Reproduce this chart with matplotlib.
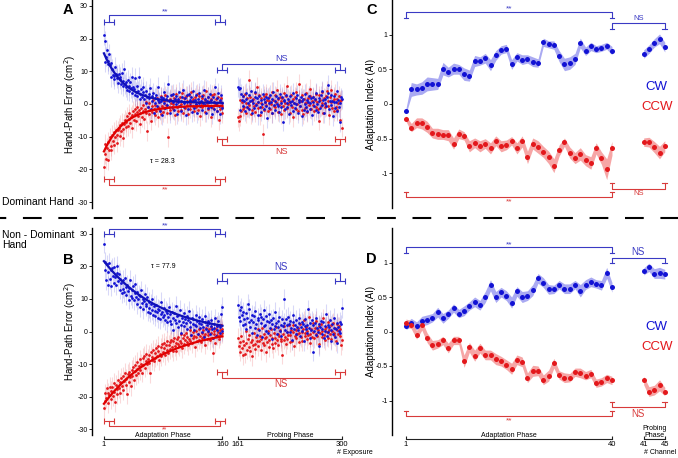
import numpy as np
import matplotlib.pyplot as plt
import matplotlib.transforms as mtransforms
from matplotlib.lines import Line2D

plt.rcParams['font.family'] = ['Liberation Sans', 'DejaVu Sans']

# ---- data: hand-path error, dominant hand (panel A) ----
adapt_trials = np.arange(1, 161)
probe_trials = np.arange(161, 301)

A_cw_adapt = np.array([
    21.1, 19.3, 12.8, 14.5, 16.6, 13.0, 12.2, 15.2, 11.9, 12.6,
    8.3, 10.8, 9.0, 7.6, 8.5, 11.4, 9.2, 7.9, 8.8, 6.4,
    9.1, 7.5, 8.2, 6.1, 9.6, 5.4, 7.0, 10.6, 6.2, 5.1,
    6.8, 4.3, 7.4, 5.6, 3.9, 6.6, 4.8, 8.4, 3.5, 5.2,
    4.6, 2.8, 7.9, 3.8, 5.5, 2.4, 4.1, 8.2, 3.0, 1.6,
    4.7, 2.2, 3.6, 5.3, 1.4, 2.9, 0.3, 3.9, 2.0, -0.8,
    3.1, 1.7, 4.8, -1.5, 2.5, 0.9, 3.4, -2.6, 1.8, 0.4,
    2.7, -0.5, 1.3, 5.2, 0.6, -2.0, 2.2, 1.0, -3.4, 1.9,
    0.2, 3.6, -1.2, 1.5, 2.4, -0.3, 6.0, 0.8, -2.8, 1.2,
    2.9, -0.9, 0.5, 3.1, -1.8, 1.6, 0.1, 2.3, -3.1, 0.7,
    1.4, 3.8, -0.6, 0.9, -2.2, 2.0, 4.4, -1.0, 0.3, 1.7,
    -3.5, 2.6, 0.6, -1.4, 3.2, 1.1, -0.2, 2.1, -2.4, 0.8,
    4.0, -1.1, 1.3, 0.0, 2.8, -2.9, 1.5, 0.4, 3.3, -0.7,
    1.0, -1.9, 2.4, 0.2, 4.2, -0.4, 1.6, -2.6, 0.9, 2.2,
    -1.3, 0.6, 3.0, -0.8, 1.2, -3.2, 2.0, 0.5, -1.6, 5.1,
    0.3, -2.1, 1.8, 3.5, -0.5, 1.1, -3.0, 2.7, 0.4, -1.2])
A_ccw_adapt = np.array([
    -19.4, -15.3, -12.1, -16.8, -13.5, -17.2, -11.6, -14.0, -10.2, -12.9,
    -14.1, -9.5, -11.3, -8.6, -12.4, -10.0, -7.9, -9.4, -11.8, -8.1,
    -7.2, -9.9, -6.5, -8.4, -5.8, -7.6, -10.3, -6.1, -4.9, -7.0,
    -5.5, -3.8, -6.8, -4.6, -2.9, -5.9, -4.0, -7.4, -3.3, -2.1,
    -4.8, -3.0, -1.6, -5.2, -2.5, -0.8, -3.7, -1.9, -6.0, -2.7,
    -1.2, -3.9, -0.4, -2.2, -4.5, -1.5, 0.6, -2.8, -8.3, -1.0,
    -3.2, 0.2, -1.8, -5.1, -0.7, -2.4, 1.3, -1.4, -3.5, -0.2,
    -2.0, 1.8, -0.9, -4.0, 0.5, -1.7, -3.0, 2.3, -0.6, -2.5,
    0.9, -1.2, 2.6, -0.3, -2.8, 1.1, -10.2, -0.8, 1.6, -1.9,
    0.4, 2.9, -1.5, -0.1, 1.7, -3.3, 0.8, 3.1, -0.9, -2.2,
    1.3, -0.5, 2.2, -1.7, 0.0, 3.5, -2.6, 0.7, 1.9, -1.1,
    2.5, -0.2, 1.0, -3.0, 2.8, 0.3, -1.4, 3.7, 0.9, -0.6,
    1.5, -2.1, 2.0, 0.1, -0.9, 3.2, -1.8, 0.6, 2.4, -3.6,
    0.4, 1.7, -1.0, 2.9, -0.3, 1.2, -2.4, 3.9, 0.2, -1.5,
    2.1, -0.7, 0.9, -4.1, 1.6, 2.7, -1.2, 0.5, 3.0, -0.4,
    1.4, -2.0, 0.3, 2.2, -5.0, 0.8, -1.6, 1.9, -0.8, -2.9])
A_cw_probe = np.array([
    5.2, 4.6, 4.9, -1.8, 3.0, 1.2, -0.6, 2.4, 0.8, -2.1,
    1.6, 3.3, -0.9, 0.4, 2.7, -1.4, 0.9, 4.1, -2.6, 1.3,
    0.2, -1.1, 2.0, 3.6, -0.3, 1.8, -3.4, 0.6, 2.5, -0.8,
    1.1, -2.3, 0.0, 3.2, 1.5, -1.6, 0.7, 2.2, -0.5, -4.2,
    1.9, 0.3, -1.3, 2.8, 0.5, -2.8, 1.4, 3.8, -0.2, 0.9,
    -1.7, 2.3, 0.1, -0.7, 1.7, -2.5, 3.0, 0.4, -1.0, 2.1,
    -5.4, 0.8, 1.2, -1.5, 2.6, 0.2, -0.9, 1.6, -3.1, 0.6,
    2.4, -0.4, 1.0, -2.0, 3.4, 0.3, -1.2, 1.8, -0.1, 2.9,
    -2.7, 0.5, 1.3, -0.6, 2.0, -3.6, 0.9, 1.5, -1.8, 0.0,
    3.1, -0.8, 1.1, -2.2, 0.7, 2.5, -1.4, 0.2, 1.9, -3.3,
    0.6, 2.2, -0.5, 1.4, -1.9, 3.5, 0.1, -2.4, 1.7, 0.8,
    -1.1, 2.6, -0.3, 4.0, 1.2, -2.9, 0.4, 1.6, -0.7, 2.1,
    5.8, 3.4, -1.6, 0.9, 2.7, -0.2, 1.0, -3.8, 0.5, 2.3,
    -1.3, 0.7, 3.9, -2.1, 1.1, -0.9, 0.3, -5.6, 2.0, 1.4])
A_ccw_probe = np.array([
    -4.1, -5.3, -3.6, 1.2, -2.0, 0.6, -1.5, 2.4, -0.8, 3.1,
    -2.7, 0.4, 1.8, -1.1, 7.4, -0.3, 2.2, -3.0, 0.9, -1.9,
    1.5, -0.6, 3.4, -2.4, 0.1, 5.2, -1.3, 0.7, 2.8, -3.5,
    0.3, 1.9, -0.9, -9.2, 2.5, -1.7, 0.5, 3.0, -0.4, 1.3,
    -2.2, 0.8, 2.1, -1.4, 0.0, 3.6, -2.8, 1.1, -0.7, 2.6,
    -1.0, 0.6, 4.3, -2.3, 1.4, -0.2, 2.0, -3.2, 0.9, 1.7,
    -0.5, 3.3, -1.8, 0.2, 2.4, -1.2, 5.6, -0.1, 1.0, -2.6,
    0.7, 2.9, -0.8, 1.6, -3.9, 0.4, 2.2, -1.5, 3.8, 0.1,
    -2.0, 1.2, 6.1, -0.6, 0.8, -1.7, 2.7, -3.0, 1.5, 0.3,
    -1.1, 3.4, 0.6, -2.5, 1.9, -0.4, 2.3, 4.6, -1.6, 0.9,
    -0.3, 2.0, -2.2, 1.1, 3.2, -0.9, 0.5, -1.4, 2.6, -5.1,
    1.3, -0.7, 0.2, 3.7, -2.9, 1.8, 0.0, -1.0, 2.4, 4.1,
    -0.5, 1.0, -3.3, 2.1, 0.6, 4.4, -1.2, 0.8, -2.1, 1.6,
    3.0, -0.8, 1.5, -1.9, 0.4, 2.5, -4.8, 0.9, 1.2, -7.2])

# ---- data: hand-path error, non-dominant hand (panel B) ----
B_cw_adapt = np.array([
    27.0, 21.4, 19.0, 15.8, 20.6, 14.2, 18.3, 21.0, 16.1, 18.9,
    13.9, 19.5, 17.2, 15.0, 19.8, 16.6, 14.3, 18.1, 20.2, 15.4,
    17.6, 12.9, 16.0, 14.8, 11.7, 15.9, 13.2, 12.0, 16.5, 13.6,
    11.1, 14.4, 12.3, 9.8, 13.5, 15.8, 11.0, 12.7, 10.2, 13.9,
    9.6, 11.8, 14.6, 10.5, 8.4, 12.1, 9.9, 11.3, 7.6, 10.8,
    12.6, 8.9, 10.1, 6.8, 9.4, 11.5, 7.7, 8.3, 10.6, 6.1,
    9.2, 7.3, 5.8, 8.6, 6.5, 10.0, 5.2, 7.9, 6.3, 4.7,
    8.1, 5.9, 7.0, 4.2, 6.7, 3.8, 5.5, 9.0, 6.0, 4.4,
    7.2, 5.0, 3.4, 6.4, 2.8, 5.7, 4.6, 7.5, 3.1, 5.3,
    2.2, 6.1, 4.0, 0.6, 5.6, 3.6, 7.8, 2.5, 4.9, 1.3,
    5.1, 3.3, 6.6, 2.0, -0.4, 4.3, 3.0, 5.8, 1.7, 3.9,
    2.6, 4.8, 0.9, 3.5, 6.3, 1.4, 2.9, -1.0, 4.1, 2.3,
    3.7, 0.5, 2.1, 5.2, 1.8, 3.2, -0.7, 2.7, 4.4, 1.1,
    2.4, 0.0, 3.9, 1.5, -1.6, 2.8, 4.7, 0.7, 1.9, 3.3,
    0.3, 2.6, -0.9, 1.6, 3.6, 0.8, -2.0, 2.2, 1.0, 4.0,
    -1.3, 1.7, 0.4, 3.1, 2.0, -0.5, 1.3, 5.3, 0.2, 7.5])
B_ccw_adapt = np.array([
    -23.6, -21.2, -19.0, -20.4, -17.5, -22.1, -18.8, -19.6, -16.9, -20.8,
    -18.2, -17.0, -19.9, -15.8, -18.5, -21.7, -16.4, -17.8, -19.2, -14.9,
    -17.3, -15.6, -18.9, -14.2, -16.6, -13.8, -17.9, -15.1, -12.7, -16.3,
    -14.6, -19.2, -13.1, -15.5, -12.4, -14.0, -16.8, -11.9, -13.6, -10.8,
    -14.8, -12.2, -10.3, -13.4, -11.5, -9.4, -12.9, -10.7, -8.6, -11.8,
    -9.9, -12.6, -8.2, -10.4, -7.5, -11.1, -9.0, -6.9, -10.0, -8.5,
    -7.1, -9.7, -12.8, -6.4, -8.8, -7.7, -5.6, -9.2, -6.6, -8.0,
    -5.2, -7.4, -6.1, -4.5, -8.9, -6.8, -4.9, -7.6, -3.9, -6.3,
    -5.0, -3.6, -7.2, -4.3, -5.7, -2.8, -6.5, -4.1, -3.2, -5.4,
    -2.5, -4.8, -6.0, -3.0, -1.9, -4.4, -3.5, -5.9, -2.2, -3.8,
    -1.6, -4.6, -2.9, -0.8, -3.4, -5.2, -2.0, -1.2, -3.9, -2.6,
    -0.5, -3.1, -1.7, -4.2, -2.3, 0.4, -2.8, -1.0, -3.6, -0.2,
    -2.1, -1.4, -4.7, 0.1, -1.8, -3.0, -0.7, -2.5, 0.8, -1.3,
    -3.3, -0.4, -2.0, 0.6, -1.5, -4.0, -0.9, 1.2, -2.4, -0.1,
    -1.1, 0.9, -2.7, -0.6, 1.5, -1.9, -6.5, 0.3, -0.8, -3.5,
    0.7, -1.2, 1.8, -0.3, -2.2, 0.5, -1.0, 2.0, -0.5, 0.9])
B_cw_probe = np.array([
    8.2, 4.6, 6.5, 3.2, 7.4, 5.1, 1.9, 6.0, 3.8, 2.4,
    5.7, 0.8, 4.3, 8.6, 2.9, 6.9, 1.5, 3.6, 5.0, -0.4,
    3.0, 4.8, 1.2, 6.3, 2.2, -1.0, 4.1, 3.4, 0.5, 5.5,
    2.6, 4.4, -1.8, 3.9, 1.7, 6.7, 2.0, 0.2, 4.9, 3.1,
    -0.6, 2.8, 5.3, 1.0, 3.5, -2.2, 2.3, 4.0, 0.9, 1.6,
    6.1, 2.5, -0.9, 3.3, 1.4, 4.6, 0.3, 2.1, -1.5, 3.7,
    1.8, 10.0, 2.7, 0.6, 3.9, -0.2, 1.9, 4.5, 2.4, 0.0,
    3.2, 1.1, -2.6, 2.9, 5.0, 0.7, 2.0, -0.8, 3.6, 1.3,
    0.4, 2.6, 4.2, -1.3, 1.5, 3.0, 0.1, 2.3, -3.0, 1.7,
    3.8, 0.8, 2.1, -0.5, 6.8, 1.2, -1.9, 2.7, 0.5, 3.4,
    -6.2, 1.9, 0.3, 2.5, -1.1, 4.1, 1.0, -0.3, 2.2, -4.5,
    1.4, 3.1, -0.7, 0.9, 2.8, -2.0, 1.6, 0.2, 5.4, -1.4,
    2.0, -0.1, 1.3, 3.5, -2.8, 0.6, 2.4, -0.9, 1.1, 4.3,
    -1.6, 0.8, 2.6, -3.6, 1.5, 0.1, 3.0, -0.6, 2.2, 7.2])
B_ccw_probe = np.array([
    -2.0, -4.6, -3.1, -6.2, -1.5, -5.0, -7.3, -2.8, -4.1, -6.8,
    -3.5, 0.3, -5.6, -2.2, -4.8, -1.0, -6.0, -3.3, -7.6, -2.5,
    -4.0, -0.6, -3.8, -5.4, -1.8, -2.9, 0.8, -4.5, -3.0, -1.3,
    -5.8, -2.4, 1.0, -3.6, -0.9, -4.3, -2.1, -6.4, -1.6, -3.2,
    0.2, -2.7, -4.9, -1.1, 0.9, -3.7, -2.0, -5.2, -0.4, -1.9,
    -3.4, 1.3, -2.6, -0.8, -4.2, -1.4, 0.5, -3.0, -2.2, -7.1,
    -0.7, -2.5, 1.6, -1.7, -3.9, 0.0, -2.3, -1.0, 2.1, -3.3,
    -1.2, 0.6, -2.8, -0.3, 1.9, -4.6, -1.5, 0.4, -2.0, -0.9,
    1.2, -3.1, -0.5, 2.4, -1.8, -0.1, -2.9, 0.7, 3.4, -1.3,
    -0.6, 1.5, -2.4, 0.1, -1.1, 4.6, -0.8, -3.5, 0.9, -1.6,
    2.7, -0.2, -2.1, 1.1, -0.9, 3.3, -1.4, 0.5, -3.8, 1.8,
    -0.4, 2.2, -1.7, 0.3, 4.0, -1.0, 0.8, -2.6, 1.4, -0.1,
    -1.9, 3.0, 0.6, -0.7, 1.9, -2.3, 0.2, 2.6, -1.2, -0.5,
    1.0, -3.0, 0.4, 2.3, -0.8, 1.6, -1.5, 0.9, -4.1, -2.6])

# exponential fits (amplitude, offset) and time constants
A_tau, B_tau = 28.3, 77.9
A_fit_cw, A_fit_ccw = (15.2, 0.3), (-14.0, -0.5)
B_fit_cw, B_fit_ccw = (22.8, -1.2), (-23.8, 1.6)
err_left = 3.0

# ---- data: adaptation index (panels C, D) ----
channels = np.arange(1, 46)
C_cw = np.array([
    -0.10, 0.21, 0.21, 0.23, 0.29, 0.29, 0.29, 0.51, 0.46, 0.51,
    0.50, 0.43, 0.41, 0.62, 0.62, 0.66, 0.56, 0.70, 0.78, 0.80,
    0.57, 0.68, 0.64, 0.65, 0.61, 0.59, 0.89, 0.86, 0.85, 0.69,
    0.57, 0.59, 0.65, 0.88, 0.76, 0.83, 0.79, 0.81, 0.84, 0.77,
    0.72, 0.79, 0.88, 0.94, 0.82])
C_ccw = np.array([
    -0.21, -0.34, -0.27, -0.28, -0.33, -0.42, -0.43, -0.44, -0.45, -0.57,
    -0.43, -0.46, -0.61, -0.56, -0.61, -0.57, -0.64, -0.53, -0.61, -0.59,
    -0.53, -0.64, -0.54, -0.77, -0.57, -0.62, -0.69, -0.77, -0.89, -0.67,
    -0.55, -0.70, -0.78, -0.72, -0.81, -0.85, -0.64, -0.78, -0.94, -0.64,
    -0.55, -0.55, -0.62, -0.70, -0.61])
D_cw = np.array([
    0.08, 0.13, 0.08, 0.15, 0.17, 0.20, 0.28, 0.19, 0.25, 0.34,
    0.26, 0.30, 0.37, 0.43, 0.38, 0.50, 0.67, 0.50, 0.57, 0.52,
    0.42, 0.58, 0.50, 0.52, 0.60, 0.77, 0.71, 0.61, 0.61, 0.68,
    0.62, 0.62, 0.68, 0.59, 0.68, 0.72, 0.69, 0.67, 0.85, 0.64,
    0.87, 0.93, 0.84, 0.85, 0.83])
D_ccw = np.array([
    0.13, 0.10, -0.05, 0.09, -0.09, -0.20, -0.18, -0.13, -0.24, -0.13,
    -0.13, -0.43, -0.23, -0.35, -0.24, -0.34, -0.34, -0.40, -0.43, -0.48,
    -0.54, -0.41, -0.44, -0.67, -0.57, -0.57, -0.70, -0.64, -0.46, -0.63,
    -0.67, -0.67, -0.59, -0.60, -0.64, -0.61, -0.75, -0.73, -0.68, -0.71,
    -0.71, -0.87, -0.85, -0.78, -0.87])
C_cw_sem = np.array([
    0.04, 0.10, 0.08, 0.09, 0.10, 0.09, 0.08, 0.09, 0.07, 0.08,
    0.07, 0.09, 0.08, 0.08, 0.06, 0.07, 0.08, 0.07, 0.06, 0.06,
    0.07, 0.06, 0.07, 0.06, 0.07, 0.06, 0.06, 0.05, 0.06, 0.08,
    0.09, 0.09, 0.08, 0.07, 0.06, 0.06, 0.05, 0.05, 0.05, 0.06,
    0.06, 0.06, 0.06, 0.07, 0.07])
C_ccw_sem = np.array([
    0.04, 0.06, 0.07, 0.08, 0.08, 0.07, 0.08, 0.07, 0.08, 0.08,
    0.07, 0.06, 0.08, 0.07, 0.08, 0.07, 0.08, 0.07, 0.08, 0.07,
    0.06, 0.08, 0.08, 0.09, 0.08, 0.09, 0.08, 0.09, 0.10, 0.08,
    0.06, 0.08, 0.08, 0.09, 0.08, 0.09, 0.08, 0.09, 0.15, 0.10,
    0.06, 0.07, 0.08, 0.09, 0.08])
D_cw_sem = np.array([
    0.05, 0.06, 0.06, 0.07, 0.07, 0.06, 0.07, 0.07, 0.06, 0.06,
    0.06, 0.07, 0.06, 0.07, 0.07, 0.08, 0.08, 0.08, 0.07, 0.07,
    0.08, 0.07, 0.08, 0.07, 0.08, 0.07, 0.07, 0.07, 0.06, 0.06,
    0.07, 0.07, 0.06, 0.09, 0.07, 0.07, 0.06, 0.07, 0.08, 0.07,
    0.05, 0.06, 0.07, 0.08, 0.07])
D_ccw_sem = np.array([
    0.05, 0.06, 0.06, 0.07, 0.07, 0.07, 0.06, 0.06, 0.07, 0.06,
    0.06, 0.09, 0.07, 0.08, 0.07, 0.07, 0.07, 0.08, 0.07, 0.07,
    0.08, 0.07, 0.07, 0.07, 0.08, 0.07, 0.07, 0.08, 0.07, 0.06,
    0.07, 0.06, 0.06, 0.07, 0.06, 0.06, 0.06, 0.06, 0.06, 0.06,
    0.06, 0.07, 0.07, 0.08, 0.06])

BLUE, RED = '#1212d4', '#e3181c'
BLUE_BAND, RED_BAND = '#aaaaf2', '#f6a6a6'
BR_BLUE, BR_RED = '#3a3ac4', '#d83a3a'
probe_shift = 20     # gap between phases on the trial axis
chan_shift = 5       # gap between phases on the channel axis

W, H = 678, 458
fig = plt.figure(figsize=(W / 100, H / 100), dpi=100)


def box(l, t, r, b):
    return [l / W, 1 - b / H, (r - l) / W, (b - t) / H]


def style_axis(ax, ticks, labels, ylim, xlim, ylabel):
    for s in ['top', 'right', 'bottom']:
        ax.spines[s].set_visible(False)
    ax.spines['left'].set_linewidth(1.0)
    ax.set_xticks([])
    ax.set_yticks(ticks)
    ax.set_yticklabels(labels)
    ax.tick_params(axis='y', labelsize=5, length=2, width=0.6, pad=1)
    ax.set_ylim(*ylim)
    ax.set_xlim(*xlim)
    ax.set_ylabel(ylabel, fontsize=7, labelpad=0)
    ax.patch.set_alpha(0)


def bar_bracket(ax, x0, x1, yline, ybar, hw, color, label, above, fs, dy):
    ax.plot([x0, x0, x1, x1], [ybar, yline, yline, ybar], color=color, lw=0.8, clip_on=False)
    ax.errorbar([x0, x1], [ybar, ybar], xerr=hw, fmt='none', ecolor=color,
                elinewidth=0.8, capsize=2, capthick=0.8, clip_on=False)
    ax.text((x0 + x1) / 2, yline + (dy if above else -dy), label, color=color, fontsize=fs,
            ha='center', va='bottom' if above else 'top')


def tee_bracket(ax, x0, x1, yline, yleg, hw, color, label, above, fs, dy):
    ax.plot([x0, x0, x1, x1], [yleg, yline, yline, yleg], color=color, lw=0.8, clip_on=False)
    for x in (x0, x1):
        ax.plot([x - hw, x + hw], [yleg, yleg], color=color, lw=0.8, clip_on=False)
    ax.text((x0 + x1) / 2, yline + (dy if above else -dy), label, color=color, fontsize=fs,
            ha='center', va='bottom' if above else 'top')


def error_panel(ax, cw_ad, ccw_ad, cw_pr, ccw_pr, tau, fit_cw, fit_ccw):
    xp = probe_trials + probe_shift
    for x, v, c in [(adapt_trials, ccw_ad, RED), (xp, ccw_pr, RED),
                    (adapt_trials, cw_ad, BLUE), (xp, cw_pr, BLUE)]:
        ax.vlines(x, v - err_left, v + err_left, color=c, lw=0.8, alpha=0.16)
    for x, v, c in [(adapt_trials, ccw_ad, RED), (xp, ccw_pr, RED),
                    (adapt_trials, cw_ad, BLUE), (xp, cw_pr, BLUE)]:
        ax.plot(x, v, 'o', ms=2.0, color=c, mec='none')
    xf = np.linspace(1, 160, 200)
    for (amp, off), c in [(fit_cw, '#1010b8'), (fit_ccw, '#e00000')]:
        ax.plot(xf, off + amp * np.exp(-(xf - 1) / tau), color=c, lw=1.6)
    style_axis(ax, [-30, -20, -10, 0, 10, 20, 30], ['-30', '-20', '-10', '0', '10', '20', '30'],
               (-31.8, 31.8), (-15, 331), 'Hand-Path Error (cm$^2$)')


def index_panel(ax, cw, ccw, cw_sem, ccw_sem):
    xa = channels[:40]
    xp = channels[40:] + chan_shift
    for v, s, band in [(cw, cw_sem, BLUE_BAND), (ccw, ccw_sem, RED_BAND)]:
        ax.fill_between(xa, v[:40] - s[:40], v[:40] + s[:40], color=band, lw=0)
        ax.fill_between(xp, v[40:] - s[40:], v[40:] + s[40:], color=band, lw=0)
    for v, c in [(cw, BLUE), (ccw, RED)]:
        ax.plot(xa, v[:40], 'o', ms=3.6, color=c, mec='none')
        ax.plot(xp, v[40:], 'o', ms=3.6, color=c, mec='none')
    style_axis(ax, [-1, -0.5, 0, 0.5, 1], ['-1', '-0.5', '0', '0.5', '1'],
               (-1.5, 1.5), (-1.65, 52.5), 'Adaptation Index (AI)')


axA = fig.add_axes(box(92, 0, 350, 208))
axB = fig.add_axes(box(92, 228, 350, 435))
axC = fig.add_axes(box(392, 0, 678, 208))
axD = fig.add_axes(box(392, 228, 678, 435))

error_panel(axA, A_cw_adapt, A_ccw_adapt, A_cw_probe, A_ccw_probe, A_tau, A_fit_cw, A_fit_ccw)
error_panel(axB, B_cw_adapt, B_ccw_adapt, B_cw_probe, B_ccw_probe, B_tau, B_fit_cw, B_fit_ccw)
index_panel(axC, C_cw, C_ccw, C_cw_sem, C_ccw_sem)
index_panel(axD, D_cw, D_ccw, D_cw_sem, D_ccw_sem)

axA.text(80, -17.7, '\u03c4 = 28.3', fontsize=5, ha='center', va='center')
axB.text(80, 20.0, '\u03c4 = 77.9', fontsize=5, ha='center', va='center')

# significance brackets, left panels
bar_bracket(axA, 8, 157, 27.2, 25.1, 6.5, BR_BLUE, '**', True, 6, 0.0)
bar_bracket(axA, 159, 318, 12.2, 10.4, 6.5, BR_BLUE, 'NS', True, 6.5, 0.3)
bar_bracket(axA, 159, 318, -12.5, -10.7, 6.5, BR_RED, 'NS', False, 6.5, 0.5)
bar_bracket(axA, 8, 157, -24.8, -22.9, 6.5, BR_RED, '**', False, 6, 0.5)
bar_bracket(axB, 8, 157, 31.5, 30.0, 6.5, BR_BLUE, '**', True, 6, 0.0)
bar_bracket(axB, 159, 318, 17.9, 15.4, 6.5, BR_BLUE, 'NS', True, 7, 0.3)
bar_bracket(axB, 159, 318, -14.2, -12.3, 6.5, BR_RED, 'NS', False, 7, 0.5)
bar_bracket(axB, 8, 157, -29.0, -27.5, 6.5, BR_RED, '**', False, 5, 0.05)

# significance brackets, right panels
tee_bracket(axC, 1, 40, 1.33, 1.24, 0.45, BR_BLUE, '**', True, 6, -0.01)
tee_bracket(axC, 40, 50, 1.17, 1.08, 0.45, BR_BLUE, 'NS', True, 5.5, 0.01)
tee_bracket(axC, 40, 50, -1.22, -1.14, 0.45, BR_RED, 'NS', False, 5.5, 0.02)
tee_bracket(axC, 1, 40, -1.34, -1.27, 0.45, BR_RED, '**', False, 6, 0.02)
tee_bracket(axD, 1, 40, 1.22, 1.14, 0.45, BR_BLUE, '**', True, 6, -0.01)
tee_bracket(axD, 40, 50, 1.07, 1.00, 0.45, BR_BLUE, 'NS', True, 7, 0.01)
tee_bracket(axD, 40, 50, -1.10, -1.02, 0.45, BR_RED, 'NS', False, 7, 0.02)
tee_bracket(axD, 1, 40, -1.22, -1.15, 0.45, BR_RED, '**', False, 6, 0.02)

for ax, y_cw, y_ccw in [(axC, 0.245, -0.04), (axD, 0.07, -0.22)]:
    ax.text(48.5, y_cw, 'CW', color=BLUE, fontsize=9.5, ha='center', va='center')
    ax.text(48.5, y_ccw, 'CCW', color=RED, fontsize=9.5, ha='center', va='center')


def phase_axis(ax, segments, names):
    tr = mtransforms.blended_transform_factory(ax.transData, ax.transAxes)
    yl = -4 / 207
    for (a, b, la, lb), name in zip(segments, names):
        ax.plot([a, b], [yl, yl], color='#222222', lw=0.8, transform=tr, clip_on=False)
        ax.plot([a, b], [yl, yl], ls='none', marker=2, ms=2.5, mew=0.8, color='#222222',
                transform=tr, clip_on=False)
        ax.text(a, yl - 0.012, la, fontsize=5.5, ha='center', va='top', transform=tr)
        ax.text(b, yl - 0.012, lb, fontsize=5.5, ha='center', va='top', transform=tr)
        ax.text((a + b) / 2, yl - 0.002, name, fontsize=5, ha='center', va='bottom',
                transform=tr, linespacing=1.0)


phase_axis(axB, [(1, 160, '1', '160'), (161 + probe_shift, 300 + probe_shift, '161', '300')],
           ['Adaptation Phase', 'Probing Phase'])
phase_axis(axD, [(1, 40, '1', '40'), (41 + chan_shift, 45 + chan_shift, '41', '45')],
           ['Adaptation Phase', 'Probing\nPhase'])
fig.text(337 / W, 1 - 453 / H, '# Exposure', fontsize=5, ha='left', va='center')
fig.text(676 / W, 1 - 453 / H, '# Channel', fontsize=5, ha='right', va='center')

# panel letters and hand labels
for letter, x, y in [('A', 68, 10), ('B', 68, 260), ('C', 372, 10), ('D', 371, 259)]:
    fig.text(x / W, 1 - y / H, letter, fontsize=10.5, fontweight='bold', ha='center', va='center')
fig.text(2 / W, 1 - 202 / H, 'Dominant Hand', fontsize=7.5, ha='left', va='center')
fig.text(2 / W, 1 - 240 / H, 'Non - Dominant\nHand', fontsize=7.5, ha='left', va='center',
         linespacing=1.1)
fig.add_artist(Line2D([0, 1], [1 - 218 / H] * 2, transform=fig.transFigure, color='k',
                      lw=1.5, ls=(6, (9, 8))))

fig.savefig('out.png', dpi=100)
